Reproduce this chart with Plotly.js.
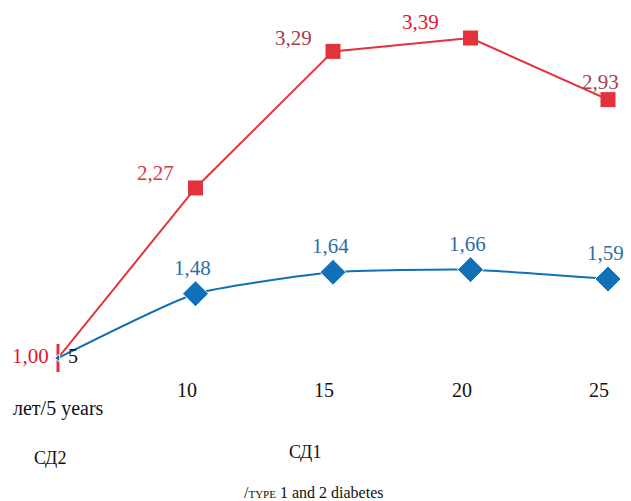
<!DOCTYPE html>
<html>
<head>
<meta charset="utf-8">
<script src="https://cdn.plot.ly/plotly-3.0.1.min.js"></script>
<style>html,body{margin:0;padding:0;background:#fff;}#chart{width:631px;height:501px;}</style>
</head>
<body>
<div id="chart"></div>
<script>
var years = [5, 10, 15, 20, 25];
var type1 = [1.00, 2.27, 3.29, 3.39, 2.93];
var type2 = [1.00, 1.48, 1.64, 1.66, 1.59];
var type1Labels = ["1,00", "2,27", "3,29", "3,39", "2,93"];
var type2Labels = ["", "1,48", "1,64", "1,66", "1,59"];
var tickLabels = ["5", "10", "15", "20", "25"];

var red = "#e3323c";
var blue = "#1071b8";
var redLabelColors = ["#e8132c", "#d23a48", "#a83a4a", "#e8132c", "#a5434f"];
var redShifts = [[-28, 2], [-40, 15], [-40, 13], [-50, 16], [-8, 18]];
var font = "Liberation Serif";

var traces = [
  {
    x: years, y: type1, mode: "lines+markers", type: "scatter", cliponaxis: false,
    line: {color: red, width: 2},
    marker: {color: red, opacity: 1, symbol: ["line-ns-open", "square", "square", "square", "square"], size: [20, 15, 15, 15, 15], line: {color: red, width: [3, 0, 0, 0, 0]}},
    hoverinfo: "skip"
  },
  {
    x: years, y: type2, mode: "lines+markers", type: "scatter", cliponaxis: false,
    line: {color: blue, width: 2, shape: "spline", smoothing: 0.5},
    marker: {color: blue, opacity: 1, symbol: ["triangle-left", "diamond", "diamond", "diamond", "diamond"], size: [7, 20, 20, 20, 20]},
    hoverinfo: "skip"
  }
];

var annotations = [];
for (var i = 0; i < years.length; i++) {
  annotations.push({
    x: years[i], y: type1[i], xref: "x", yref: "y", text: type1Labels[i], showarrow: false,
    xshift: redShifts[i][0], yshift: redShifts[i][1],
    font: {family: font, size: 21, color: redLabelColors[i]}
  });
  if (type2Labels[i]) {
    annotations.push({
      x: years[i], y: type2[i], xref: "x", yref: "y", text: type2Labels[i], showarrow: false,
      xshift: -3, yshift: 26,
      font: {family: font, size: 21, color: "#2a6ea8"}
    });
  }
  if (i === 0) {
    annotations.push({x: years[i], y: type2[i], xref: "x", yref: "y", text: tickLabels[i], showarrow: false,
      xshift: 15, yshift: 2, font: {family: font, size: 20, color: "#111"}});
  } else {
    annotations.push({x: years[i], y: 1.0, xref: "x", yref: "y", text: tickLabels[i], showarrow: false,
      xshift: -9, yshift: -32, font: {family: font, size: 20, color: "#111"}});
  }
}
var extra = [
  {x: 58, y: 408, text: "лет/5 years", size: 20},
  {x: 50, y: 458, text: "СД2", size: 18},
  {x: 305, y: 452, text: "СД1", size: 18},
  {x: 313, y: 492, text: "/<span style=\"font-size:11px\">TYPE</span> 1 and 2 diabetes", size: 16}
];

var L = 58, R = 23, T = 38, B = 143, W = 631, H = 501;
extra.forEach(function (e) {
  annotations.push({
    x: (e.x - L) / (W - L - R), y: (H - B - e.y) / (H - T - B), xref: "paper", yref: "paper",
    xanchor: "center", yanchor: "middle", text: e.text, showarrow: false,
    font: {family: font, size: e.size, color: "#111"}
  });
});

var layout = {
  width: W, height: H,
  margin: {l: L, r: R, t: T, b: B, pad: 0},
  paper_bgcolor: "#fff", plot_bgcolor: "#fff",
  showlegend: false,
  xaxis: {range: [5, 25], visible: false, fixedrange: true},
  yaxis: {range: [1.0, 3.39], visible: false, fixedrange: true},
  annotations: annotations
};

Plotly.newPlot("chart", traces, layout, {displayModeBar: false, staticPlot: true});
</script>
</body>
</html>
